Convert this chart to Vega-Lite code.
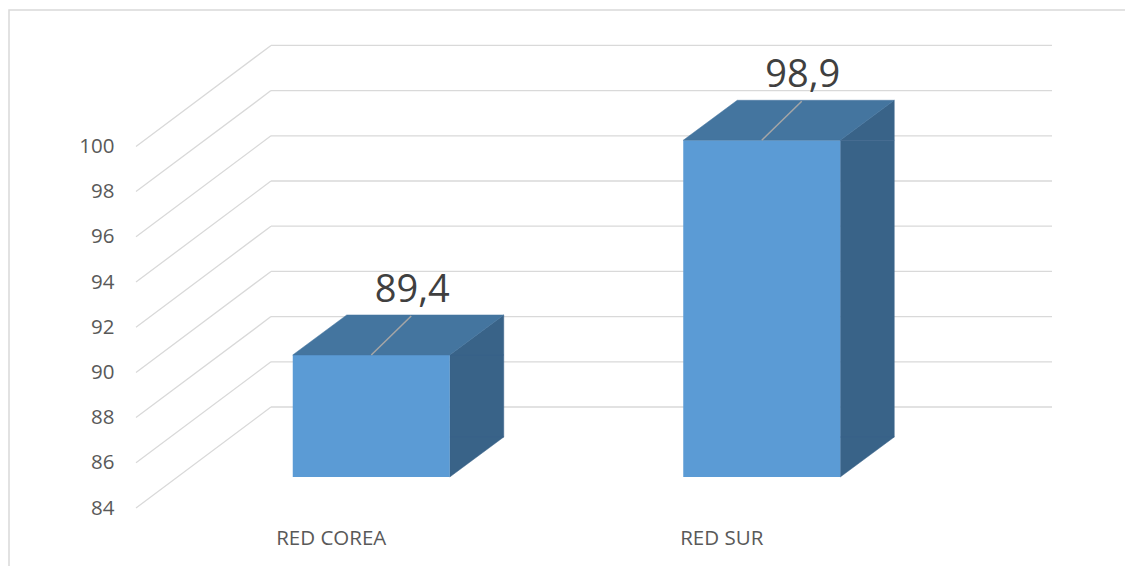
{
  "$schema": "https://vega.github.io/schema/vega-lite/v6.json",
  "autosize": {"type": "none"},
  "width": 781,
  "height": 452,
  "padding": {"left": 136, "top": 56, "right": 208, "bottom": 58},
  "background": "white",
  "config": {
    "view": {"stroke": null},
    "locale": {"number": {"decimal": ",", "thousands": ".", "grouping": [3], "currency": ["", " €"]}}
  },
  "datasets": {
    "grid": [{"v": 84}, {"v": 86}, {"v": 88}, {"v": 90}, {"v": 92}, {"v": 94}, {"v": 96}, {"v": 98}, {"v": 100}],
    "bars": [{"red": "RED COREA", "valor": 89.4}, {"red": "RED SUR", "valor": 98.9}]
  },
  "resolve": {"scale": {"x": "independent"}, "axis": {"x": "independent"}},
  "layer": [
    {
      "data": {"values": [{"k": 1}]},
      "mark": {"type": "rect", "fill": null, "stroke": "#D9D9D9", "strokeWidth": 1.5, "xOffset": -127, "x2Offset": 300, "yOffset": -46, "y2Offset": 100},
      "encoding": {
        "x": {"datum": 0, "type": "quantitative", "scale": {"domain": [0, 1], "nice": false, "zero": false}, "axis": null},
        "x2": {"datum": 1},
        "y": {"datum": 104, "type": "quantitative", "scale": {"domain": [84, 104], "nice": false, "zero": false},
              "axis": {"title": null, "values": [84, 86, 88, 90, 92, 94, 96, 98, 100], "ticks": false, "domain": false, "grid": false, "labelPadding": 22, "labelFont": "Open Sans", "labelFontSize": 20.5, "labelColor": "#595959"}},
        "y2": {"datum": 84}
      }
    },
    {
      "data": {"name": "grid"},
      "mark": {"type": "rule", "stroke": "#D9D9D9", "strokeWidth": 1.3, "xOffset": 135, "x2Offset": 135, "yOffset": -101},
      "encoding": {
        "x": {"datum": 0, "type": "quantitative", "scale": {"domain": [0, 1], "nice": false, "zero": false}, "axis": null},
        "x2": {"datum": 1},
        "y": {"field": "v", "type": "quantitative", "scale": {"domain": [84, 104], "nice": false, "zero": false},
              "axis": {"title": null, "values": [84, 86, 88, 90, 92, 94, 96, 98, 100], "ticks": false, "domain": false, "grid": false, "labelPadding": 22, "labelFont": "Open Sans", "labelFontSize": 20.5, "labelColor": "#595959"}}
      }
    },
    {
      "data": {"name": "grid"},
      "mark": {"type": "rule", "stroke": "#D9D9D9", "strokeWidth": 1.3, "x2Offset": 135, "y2Offset": -101},
      "encoding": {
        "x": {"datum": 0, "type": "quantitative", "scale": {"domain": [0, 1], "nice": false, "zero": false}, "axis": null},
        "x2": {"datum": 0},
        "y": {"field": "v", "type": "quantitative", "scale": {"domain": [84, 104], "nice": false, "zero": false},
              "axis": {"title": null, "values": [84, 86, 88, 90, 92, 94, 96, 98, 100], "ticks": false, "domain": false, "grid": false, "labelPadding": 22, "labelFont": "Open Sans", "labelFontSize": 20.5, "labelColor": "#595959"}},
        "y2": {"field": "v"}
      }
    },
    {
      "data": {"name": "bars"},
      "layer": [
        {
          "mark": {"type": "bar", "fill": "#396388", "stroke": "#396388", "strokeWidth": 0.5, "width": 54, "xOffset": 145.5, "yOffset": -31, "y2Offset": -71},
          "encoding": {"y2": {"datum": 84}}
        },
        {
          "mark": {"type": "point", "shape": "M0,0L54,-40L54,0Z", "size": 4, "filled": true, "fill": "#396388", "stroke": "#396388", "strokeWidth": 0.5, "opacity": 1, "xOffset": 118.5, "yOffset": -31}
        },
        {
          "mark": {"type": "point", "shape": "M0,0L0,-40L54,-40Z", "size": 4, "filled": true, "fill": "#396388", "stroke": "#396388", "strokeWidth": 0.5, "opacity": 1, "xOffset": 118.5, "yOffset": -31},
          "encoding": {"y": {"datum": 84, "type": "quantitative"}}
        },
        {
          "mark": {"type": "bar", "fill": "#5B9BD5", "width": 157, "xOffset": 40, "yOffset": -31, "y2Offset": -31},
          "encoding": {
            "x": {"field": "red", "type": "nominal", "sort": null, "scale": {"paddingInner": 0, "paddingOuter": 0},
                  "axis": {"title": null, "ticks": false, "domain": false, "grid": false, "labelAngle": 0, "labelPadding": 20, "labelFont": "Open Sans", "labelFontSize": 20.5, "labelColor": "#595959"}},
            "y2": {"datum": 84}
          }
        },
        {
          "mark": {"type": "point", "shape": "M0,0L157,0L211,-40L54,-40Z", "size": 4, "filled": true, "fill": "#44759F", "stroke": "#44759F", "strokeWidth": 0.5, "opacity": 1, "xOffset": -38.5, "yOffset": -31}
        },
        {
          "mark": {"type": "point", "shape": "M0,0L40,-39", "size": 4, "filled": false, "stroke": "#A6A6A6", "strokeWidth": 1.5, "opacity": 1, "xOffset": 40, "yOffset": -31}
        },
        {
          "mark": {"type": "text", "font": "Open Sans", "fontSize": 38, "fill": "#404040", "align": "center", "baseline": "alphabetic", "xOffset": 81, "yOffset": -84},
          "encoding": {"text": {"field": "valor", "type": "quantitative", "format": ".1f"}}
        }
      ],
      "encoding": {
        "x": {"field": "red", "type": "nominal", "sort": null, "scale": {"paddingInner": 0, "paddingOuter": 0},
              "axis": {"title": null, "ticks": false, "domain": false, "grid": false, "labelAngle": 0, "labelPadding": 20, "labelFont": "Open Sans", "labelFontSize": 20.5, "labelColor": "#595959"}},
        "y": {"field": "valor", "type": "quantitative", "scale": {"domain": [84, 104], "nice": false, "zero": false},
              "axis": {"title": null, "values": [84, 86, 88, 90, 92, 94, 96, 98, 100], "ticks": false, "domain": false, "grid": false, "labelPadding": 22, "labelFont": "Open Sans", "labelFontSize": 20.5, "labelColor": "#595959"}}
      }
    }
  ]
}
